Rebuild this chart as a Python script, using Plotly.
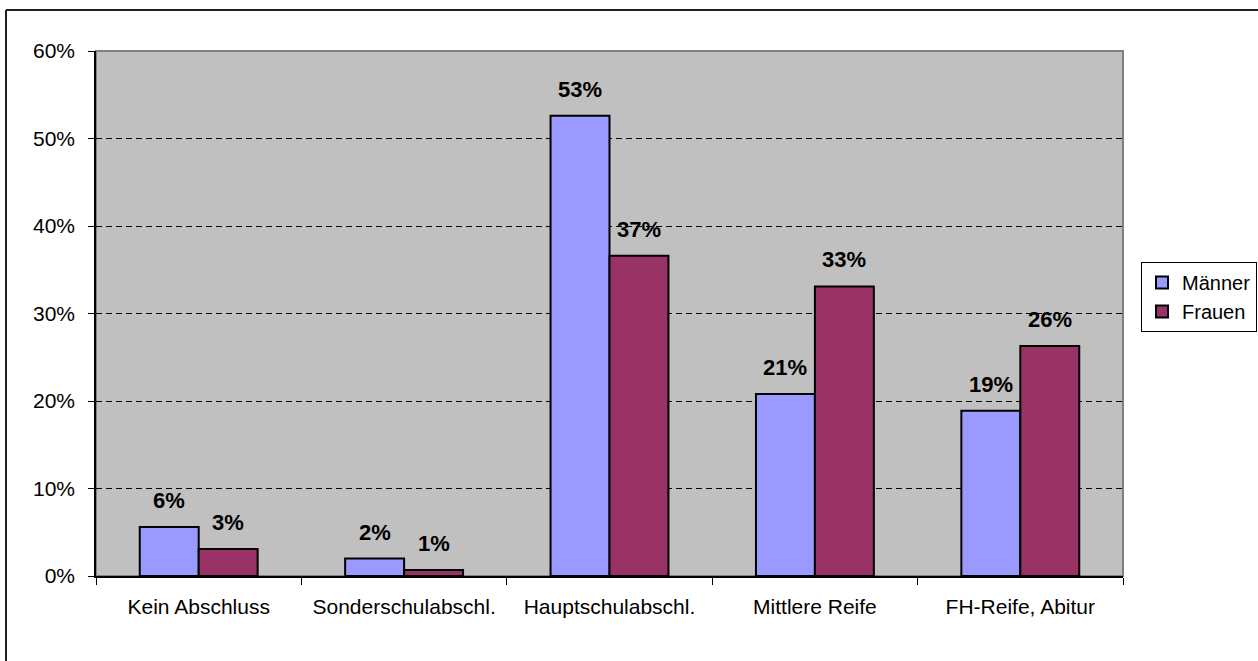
import plotly.graph_objects as go

categories = ["Kein Abschluss", "Sonderschulabschl.", "Hauptschulabschl.", "Mittlere Reife", "FH-Reife, Abitur"]
maenner = [5.6, 2.0, 52.6, 20.8, 18.9]
frauen = [3.1, 0.7, 36.6, 33.1, 26.3]
series_names = ["Männer", "Frauen"]
y_ticks = [0, 10, 20, 30, 40, 50, 60]
y_ticklabels = ["0%", "10%", "20%", "30%", "40%", "50%", "60%"]

W, H = 1258, 661
ml, mr, mt, mb = 96, 135, 51, 85
pw, ph = W - ml - mr, H - mt - mb
FONT = "Arial, Liberation Sans, sans-serif"

fig = go.Figure()
colors = ["#9999FF", "#993366"]
for name, vals, col in zip(series_names, [maenner, frauen], colors):
    fig.add_trace(go.Bar(
        x=categories, y=vals, name=name,
        marker=dict(color=col, line=dict(color="black", width=2)),
    ))

# data labels
cat_px = pw / len(categories)
bar_px = cat_px * (1 - 0.426) / 2
for i, (name, vals) in enumerate(zip(series_names, [maenner, frauen])):
    for c, v in zip(categories, vals):
        fig.add_annotation(
            x=c, y=v, xref="x", yref="y", text="<b>%d%%</b>" % int(v + 0.5),
            showarrow=False, yanchor="bottom", xanchor="center",
            xshift=(i - 0.5) * bar_px, yshift=12,
            font=dict(family=FONT, size=22, color="black"),
        )

# plot border (gray) and outer chart border
fig.add_shape(type="rect", xref="paper", yref="paper", x0=0, x1=1, y0=0, y1=1,
              line=dict(color="#808080", width=2), layer="below")
lx = (6 - ml) / pw
ty = (H - mb - 10) / ph
fig.add_shape(type="line", xref="paper", yref="paper", x0=lx, x1=lx, y0=-0.3, y1=ty,
              line=dict(color="#202020", width=2))
fig.add_shape(type="line", xref="paper", yref="paper", x0=lx, x1=1.3, y0=ty, y1=ty,
              line=dict(color="#202020", width=2))

fig.update_layout(
    width=W, height=H,
    margin=dict(l=ml, r=mr, t=mt, b=mb, pad=0, autoexpand=False),
    paper_bgcolor="white", plot_bgcolor="#C0C0C0",
    barmode="group", bargap=0.426, bargroupgap=0,
    font=dict(family=FONT, size=21, color="black"),
    legend=dict(x=(1141 - ml) / pw, y=(H - mb - 297) / ph, xanchor="left", yanchor="middle",
                bordercolor="#000000", borderwidth=1, bgcolor="white",
                font=dict(size=20), tracegroupgap=0, itemwidth=30),
    showlegend=True,
)
fig.update_xaxes(
    type="category", showline=True, linecolor="black", linewidth=1.5,
    ticks="outside", ticklen=7, tickcolor="black", tickson="boundaries",
    showgrid=False, mirror=False, tickfont=dict(size=21), ticklabelstandoff=11,
    automargin=False,
)
fig.update_yaxes(
    range=[0, 60], tickvals=y_ticks, ticktext=y_ticklabels,
    showline=True, linecolor="black", linewidth=1.5,
    ticks="outside", ticklen=6, tickcolor="black",
    showgrid=True, gridcolor="black", gridwidth=1, griddash="6px,4px",
    zeroline=False, tickfont=dict(size=21), ticklabelstandoff=9,
    automargin=False,
)

fig.write_html("out.html", config={"displayModeBar": False},
               post_script="document.body.style.margin='0';document.body.style.overflow='hidden';")
